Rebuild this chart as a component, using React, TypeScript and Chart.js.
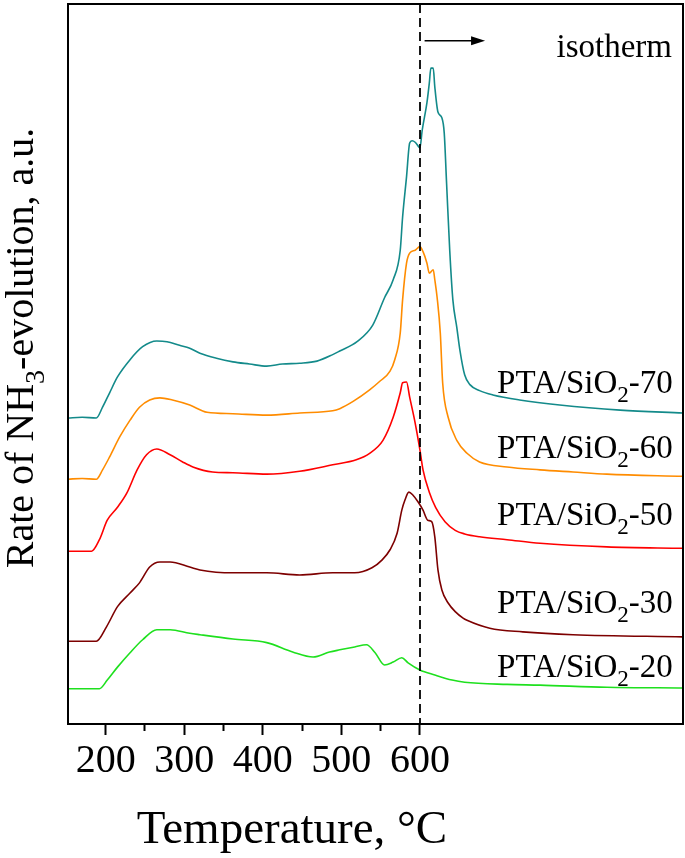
import React, { useEffect, useRef } from "react";
import { Chart, registerables } from "chart.js";

Chart.register(...registerables);

// ---------- data (temperature °C / isotherm continuation, rate in a.u.) ----------
const X_MIN = 152;
const X_MAX = 935;
const Y_MIN = 0;
const Y_MAX = 10;
const TICK_VALUES = [200, 250, 300, 350, 400, 450, 500, 550, 600];
const MAJOR_TICKS = [200, 300, 400, 500, 600];
const ISOTHERM_START = 600;
const SAMPLE_CODES = ["70", "60", "50", "30", "20"];
const COLORS = ["#138a8a", "#ff8c00", "#ff0000", "#7d0000", "#1ee01e"];

const PTA70: [number, number][] = [
  [152, 4.25], [170, 4.26], [188, 4.25], [196, 4.4], [205, 4.6], [215, 4.82], [231, 5.06],
  [247, 5.24], [265, 5.32], [278, 5.31], [294, 5.26], [307, 5.22], [320, 5.15], [341, 5.08],
  [362, 5.03], [383, 5.0], [405, 4.97], [425, 5.0], [447, 5.01], [469, 5.04], [489, 5.13],
  [498, 5.18], [520, 5.31], [540, 5.54], [555, 5.92], [566, 6.17], [575, 6.58], [578, 7.04],
  [583, 7.6], [587, 8.07], [590, 8.1], [594, 8.08], [599, 8.01], [600, 8.0], [603, 8.25],
  [609, 8.63], [612, 8.9], [614, 9.11], [617, 9.11], [619, 8.85], [623, 8.5], [628, 8.42],
  [631, 8.21], [634, 7.51], [638, 6.58], [642, 5.89], [647, 5.51], [651, 5.19], [657, 4.85],
  [664, 4.71], [676, 4.63], [693, 4.57], [727, 4.5], [778, 4.43], [855, 4.36], [935, 4.32],
];

const PTA60: [number, number][] = [
  [152, 3.4], [170, 3.41], [188, 3.4], [196, 3.53], [205, 3.71], [218, 3.99], [231, 4.22],
  [243, 4.4], [256, 4.5], [269, 4.53], [285, 4.5], [307, 4.43], [329, 4.33], [362, 4.31],
  [405, 4.29], [447, 4.32], [489, 4.35], [498, 4.38], [515, 4.48], [536, 4.64], [549, 4.76],
  [562, 4.9], [568, 5.06], [575, 5.43], [578, 5.89], [583, 6.4], [587, 6.54], [594, 6.58],
  [600, 6.63], [604, 6.56], [609, 6.4], [612, 6.26], [617, 6.31], [619, 6.17], [622, 5.92],
  [626, 5.43], [629, 4.74], [636, 4.26], [647, 3.94], [660, 3.76], [676, 3.64], [711, 3.57],
  [753, 3.53], [795, 3.5], [838, 3.47], [935, 3.44],
];

const PTA50: [number, number][] = [
  [152, 2.4], [182, 2.4], [192, 2.56], [202, 2.83], [215, 3.01], [227, 3.21], [240, 3.53],
  [252, 3.74], [265, 3.82], [282, 3.74], [298, 3.64], [311, 3.57], [336, 3.5], [362, 3.49],
  [405, 3.47], [447, 3.51], [489, 3.6], [519, 3.67], [536, 3.76], [553, 3.94], [566, 4.26],
  [575, 4.6], [578, 4.74], [583, 4.75], [587, 4.54], [594, 4.18], [600, 3.81], [604, 3.53],
  [612, 3.22], [620, 3.01], [632, 2.81], [645, 2.69], [657, 2.64], [676, 2.6], [711, 2.56],
  [753, 2.51], [838, 2.46], [935, 2.44],
];

const PTA30: [number, number][] = [
  [152, 1.15], [188, 1.15], [201, 1.35], [215, 1.63], [231, 1.82], [243, 1.96], [256, 2.18],
  [269, 2.25], [282, 2.25], [307, 2.18], [320, 2.14], [362, 2.1], [405, 2.1], [447, 2.07],
  [489, 2.1], [517, 2.1], [539, 2.17], [552, 2.28], [562, 2.42], [571, 2.65], [577, 2.97],
  [581, 3.11], [586, 3.22], [591, 3.18], [598, 3.08], [604, 2.97], [610, 2.83], [615, 2.81],
  [619, 2.6], [623, 2.14], [628, 1.86], [636, 1.68], [645, 1.56], [655, 1.47], [660, 1.44],
  [689, 1.33], [731, 1.28], [795, 1.24], [935, 1.21],
];

const PTA20: [number, number][] = [
  [152, 0.49], [192, 0.49], [202, 0.61], [215, 0.79], [231, 0.99], [247, 1.17], [265, 1.31],
  [282, 1.31], [307, 1.26], [320, 1.24], [362, 1.18], [405, 1.13], [438, 1.0], [464, 0.93],
  [485, 1.0], [498, 1.03], [517, 1.07], [532, 1.1], [543, 0.99], [555, 0.82], [566, 0.86],
  [577, 0.92], [585, 0.85], [600, 0.75], [619, 0.68], [641, 0.61], [657, 0.58], [711, 0.55],
  [753, 0.54], [838, 0.51], [935, 0.5],
];

const SERIES = [PTA70, PTA60, PTA50, PTA30, PTA20];

// ---------- annotation anchors (in data units) ----------
const LABEL_X = 922;
const LABEL_Y = [4.6, 3.69, 2.76, 1.54, 0.65];
const ARROW_FROM = 606;
const ARROW_TO = 683;
const ARROW_Y = 9.49;
const ISOTHERM_TEXT_X = 921;
const ISOTHERM_TEXT_Y = 9.26;

const FONT = "'Liberation Serif', 'Times New Roman', serif";

type Part = { text: string; sub?: boolean };

function measureRich(ctx: CanvasRenderingContext2D, parts: Part[], size: number) {
  return parts.map((p) => {
    ctx.font = `${p.sub ? size * 0.7 : size}px ${FONT}`;
    return ctx.measureText(p.text).width;
  });
}

function drawRich(
  ctx: CanvasRenderingContext2D,
  parts: Part[],
  x: number,
  y: number,
  size: number,
  align: "left" | "right" | "center"
) {
  const widths = measureRich(ctx, parts, size);
  const total = widths.reduce((a, b) => a + b, 0);
  let cx = align === "left" ? x : align === "right" ? x - total : x - total / 2;
  ctx.textAlign = "left";
  ctx.textBaseline = "alphabetic";
  parts.forEach((p, i) => {
    ctx.font = `${p.sub ? size * 0.7 : size}px ${FONT}`;
    ctx.fillText(p.text, cx, p.sub ? y + size * 0.27 : y);
    cx += widths[i];
  });
}

const overlayPlugin = {
  id: "overlay",
  afterDraw(chart: any) {
    const ctx: CanvasRenderingContext2D = chart.ctx;
    const { left, right, top, bottom } = chart.chartArea;
    const xs = chart.scales.x;
    const ys = chart.scales.y;
    ctx.save();
    ctx.fillStyle = "#000";
    ctx.strokeStyle = "#000";

    // frame
    ctx.lineWidth = 2;
    ctx.setLineDash([]);
    ctx.strokeRect(left, top, right - left, bottom - top);

    // isotherm dashed line
    const xi = Math.round(xs.getPixelForValue(ISOTHERM_START));
    ctx.beginPath();
    ctx.lineWidth = 1.8;
    ctx.setLineDash([9, 5]);
    ctx.moveTo(xi, top);
    ctx.lineTo(xi, bottom);
    ctx.stroke();
    ctx.setLineDash([]);

    // arrow
    const ay = ys.getPixelForValue(ARROW_Y);
    const ax1 = xs.getPixelForValue(ARROW_FROM);
    const ax2 = xs.getPixelForValue(ARROW_TO);
    ctx.lineWidth = 1.5;
    ctx.beginPath();
    ctx.moveTo(ax1, ay);
    ctx.lineTo(ax2 - 10, ay);
    ctx.stroke();
    ctx.beginPath();
    ctx.moveTo(ax2, ay);
    ctx.lineTo(ax2 - 14, ay - 4.5);
    ctx.lineTo(ax2 - 14, ay + 4.5);
    ctx.closePath();
    ctx.fill();

    // isotherm text
    drawRich(ctx, [{ text: "isotherm" }], xs.getPixelForValue(ISOTHERM_TEXT_X), ys.getPixelForValue(ISOTHERM_TEXT_Y), 33, "right");

    // series labels
    SAMPLE_CODES.forEach((code, i) => {
      drawRich(
        ctx,
        [{ text: "PTA/SiO" }, { text: "2", sub: true }, { text: "-" + code }],
        xs.getPixelForValue(LABEL_X),
        ys.getPixelForValue(LABEL_Y[i]),
        33,
        "right"
      );
    });

    // x axis title
    drawRich(ctx, [{ text: "Temperature, °C" }], left + 224, bottom + 119, 47, "center");

    // y axis title (rotated)
    ctx.save();
    ctx.translate(33, (top + bottom) / 2 - 16);
    ctx.rotate(-Math.PI / 2);
    drawRich(
      ctx,
      [{ text: "Rate of NH" }, { text: "3", sub: true }, { text: "-evolution, a.u." }],
      0,
      0,
      40,
      "center"
    );
    ctx.restore();

    ctx.restore();
  },
};

export default function App() {
  const ref = useRef<HTMLCanvasElement | null>(null);

  useEffect(() => {
    document.body.style.margin = "0";
    const canvas = ref.current;
    if (!canvas) return;
    const chart = new Chart(canvas, {
      type: "line",
      data: {
        datasets: SERIES.map((s, i) => ({
          label: "PTA/SiO2-" + SAMPLE_CODES[i],
          data: s.map(([x, y]) => ({ x, y })),
          borderColor: COLORS[i],
          backgroundColor: COLORS[i],
          borderWidth: 1.6,
          pointRadius: 0,
          cubicInterpolationMode: "monotone" as const,
          fill: false,
        })),
      },
      options: {
        animation: false,
        responsive: false,
        events: [],
        layout: { padding: { left: 68, right: 2, top: 4, bottom: 0 } },
        plugins: { legend: { display: false }, tooltip: { enabled: false }, title: { display: false } },
        scales: {
          x: {
            type: "linear",
            min: X_MIN,
            max: X_MAX,
            afterBuildTicks: (scale: any) => {
              scale.ticks = TICK_VALUES.map((v) => ({ value: v }));
            },
            afterFit: (scale: any) => {
              scale.height = 134;
            },
            ticks: {
              autoSkip: false,
              maxRotation: 0,
              padding: 2,
              color: "#000",
              font: { family: FONT, size: 40 },
              callback: (v: any) => (MAJOR_TICKS.includes(Number(v)) ? String(v) : ""),
            },
            grid: {
              drawOnChartArea: false,
              drawTicks: true,
              tickLength: 11,
              tickWidth: 2,
              tickColor: "#000",
              tickBorderDash: (c: any) => (c.tick && MAJOR_TICKS.includes(c.tick.value) ? [] : [6, 40]),
            },
            border: { display: true, color: "#000", width: 2 },
          },
          y: { display: false, min: Y_MIN, max: Y_MAX },
        },
      },
      plugins: [overlayPlugin],
    });
    return () => chart.destroy();
  }, []);

  return (
    <canvas
      ref={ref}
      width={685}
      height={858}
      style={{ display: "block", position: "absolute", left: 0, top: 0, background: "#fff" }}
    />
  );
}
